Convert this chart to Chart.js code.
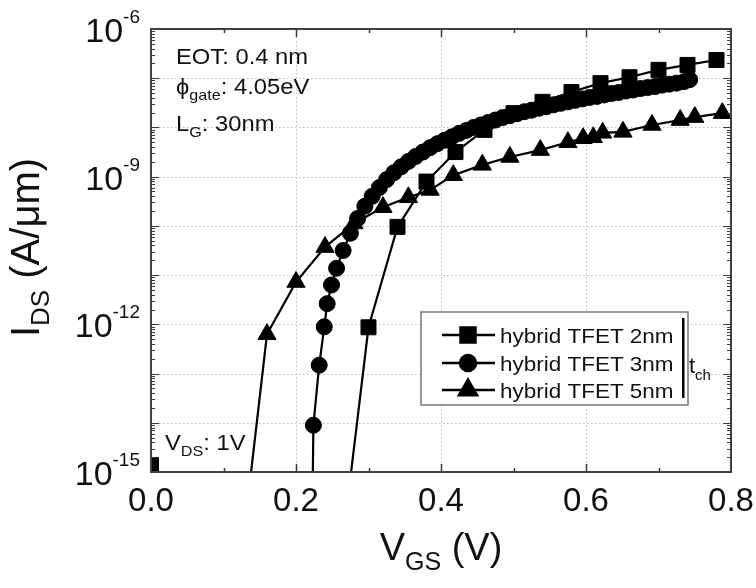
<!DOCTYPE html>
<html><head><meta charset="utf-8">
<script src="https://cdn.jsdelivr.net/npm/chart.js@4.4.1/dist/chart.umd.min.js"></script>
<style>html,body{margin:0;padding:0;background:#fff}canvas{display:block}</style>
</head><body>
<canvas id="c" width="756" height="588"></canvas>
<script>
// Transfer characteristics of hybrid TFETs, log10(I_DS [A/um]) vs V_GS [V]
const vgsSquare = [0.00, 0.26, 0.30, 0.34, 0.38, 0.42, 0.46, 0.50, 0.54, 0.58, 0.62, 0.66, 0.70, 0.74, 0.78];
const logIdsSquare = [-14.86, -16.96, -12.06, -10.02, -9.10, -8.50, -8.05, -7.71, -7.48, -7.28, -7.10, -6.98, -6.83, -6.73, -6.63];

const vgsCircle = [0.222, 0.224, 0.232, 0.239, 0.243, 0.249, 0.256, 0.265, 0.275, 0.285, 0.295, 0.305, 0.315, 0.325, 0.335,
  0.345, 0.355, 0.365, 0.375, 0.385, 0.395, 0.405, 0.415, 0.425, 0.435, 0.445, 0.455, 0.465, 0.475, 0.485, 0.495,
  0.505, 0.515, 0.525, 0.535, 0.545, 0.555, 0.565, 0.575, 0.585, 0.595, 0.605, 0.615, 0.625, 0.635, 0.645, 0.655,
  0.665, 0.675, 0.685, 0.695, 0.705, 0.715, 0.725, 0.735, 0.743];
const logIdsCircle = [-16.5, -14.05, -12.83, -12.05, -11.58, -11.20, -10.86, -10.50, -10.15, -9.85, -9.60, -9.40, -9.22, -9.06, -8.92,
  -8.80, -8.69, -8.59, -8.50, -8.41, -8.33, -8.26, -8.19, -8.12, -8.06, -8.00, -7.95, -7.90, -7.85, -7.80, -7.76,
  -7.72, -7.68, -7.65, -7.61, -7.58, -7.54, -7.51, -7.48, -7.45, -7.42, -7.39, -7.37, -7.34, -7.31, -7.29, -7.26,
  -7.24, -7.21, -7.19, -7.17, -7.14, -7.12, -7.10, -7.07, -7.03];

const vgsTriangle = [0.12, 0.16, 0.20, 0.24, 0.28, 0.32, 0.355, 0.385, 0.417, 0.457, 0.495, 0.537, 0.575, 0.596, 0.610,
  0.623, 0.651, 0.691, 0.730, 0.750, 0.788];
const logIdsTriangle = [-17.3, -12.20, -11.14, -10.43, -9.95, -9.62, -9.42, -9.27, -8.97, -8.76, -8.60, -8.46, -8.30, -8.22, -8.20,
  -8.11, -8.09, -7.95, -7.85, -7.79, -7.71];

const seriesNames = ['hybrid TFET 2nm', 'hybrid TFET 3nm', 'hybrid TFET 5nm'];
const xTickLabels = ['0.0', '0.2', '0.4', '0.6', '0.8'];
const yDecadeLabels = [-6, -9, -12, -15];

const toPoints = (xs, logs) => xs.map((v, i) => ({ x: v, y: Math.pow(10, logs[i]) }));

const FONT = '"Liberation Sans", Arial, sans-serif';
const INK = '#111';

// draws a run of text pieces ([text, size, dy]) with optional horizontal stretch
function richText(ctx, parts, x, y, align, sx) {
  sx = sx || 1;
  let w = 0;
  parts.forEach(p => { ctx.font = p[1] + 'px ' + FONT; w += ctx.measureText(p[0]).width * sx; });
  let cx = align === 'right' ? x - w : align === 'center' ? x - w / 2 : x;
  parts.forEach(p => {
    ctx.font = p[1] + 'px ' + FONT;
    ctx.save();
    ctx.translate(cx, y + (p[2] || 0));
    ctx.scale(sx, 1);
    ctx.fillText(p[0], 0, 0);
    ctx.restore();
    cx += ctx.measureText(p[0]).width * sx;
  });
}

const framePlugin = {
  id: 'frame',
  beforeDatasetsDraw(chart) {
    const { ctx, chartArea: a } = chart;
    const xs = chart.scales.x, ys = chart.scales.y;
    ctx.save();
    ctx.strokeStyle = '#bdbdbd';
    ctx.lineWidth = 1;
    ctx.setLineDash([1.5, 2.5]);
    for (let e = -14; e <= -7; e++) {
      const y = Math.round(ys.getPixelForValue(Math.pow(10, e))) + 0.5;
      ctx.beginPath(); ctx.moveTo(a.left, y); ctx.lineTo(a.right, y); ctx.stroke();
    }
    [0.2, 0.4, 0.6].forEach(v => {
      const x = Math.round(xs.getPixelForValue(v)) + 0.5;
      ctx.beginPath(); ctx.moveTo(x, a.top); ctx.lineTo(x, a.bottom); ctx.stroke();
    });
    ctx.restore();
  },
  afterDatasetsDraw(chart) {
    const { ctx, chartArea: a } = chart;
    const xs = chart.scales.x, ys = chart.scales.y;
    ctx.save();
    ctx.strokeStyle = '#3a3a3a';
    ctx.lineWidth = 1.5;
    // inward tick marks on all four sides
    for (let i = 1; i < 8; i++) {
      const v = i / 10;
      const x = Math.round(xs.getPixelForValue(v)) + 0.5;
      const len = i % 2 === 0 ? 8 : 4;
      ctx.beginPath();
      ctx.moveTo(x, a.bottom); ctx.lineTo(x, a.bottom - len);
      ctx.moveTo(x, a.top); ctx.lineTo(x, a.top + len);
      ctx.stroke();
    }
    ctx.lineWidth = 1;
    for (let e = -15; e < -6; e++) {
      for (let m = 1; m <= 9; m++) {
        const y = Math.round(ys.getPixelForValue(m * Math.pow(10, e))) + 0.5;
        if (y <= a.top + 1 || y >= a.bottom - 1) continue;
        const len = m === 1 ? 8 : 4;
        ctx.beginPath();
        ctx.moveTo(a.left, y); ctx.lineTo(a.left + len, y);
        ctx.moveTo(a.right, y); ctx.lineTo(a.right - len, y);
        ctx.stroke();
      }
    }
    ctx.strokeStyle = '#404040';
    ctx.lineWidth = 2;
    ctx.strokeRect(a.left, a.top, a.right - a.left, a.bottom - a.top);
    ctx.restore();
  },
  afterDraw(chart) {
    const { ctx, chartArea: a } = chart;
    const xs = chart.scales.x, ys = chart.scales.y;
    ctx.save();
    ctx.fillStyle = INK;
    ctx.textBaseline = 'alphabetic';
    // x tick labels
    ctx.textAlign = 'center';
    ctx.font = '33px ' + FONT;
    xTickLabels.forEach(t => ctx.fillText(t, xs.getPixelForValue(parseFloat(t)), a.bottom + 39));
    // y tick labels (powers of ten)
    ctx.textAlign = 'left';
    yDecadeLabels.forEach(e => {
      const y = ys.getPixelForValue(Math.pow(10, e));
      richText(ctx, [['10', 34, 0], [String(e), 19, -19]], a.left - 11, y + 13, 'right');
    });
    // axis titles
    richText(ctx, [['V', 38, 0], ['GS', 25, 10], [' (V)', 38, 0]], (a.left + a.right) / 2, 560, 'center');
    ctx.save();
    ctx.translate(39, (a.top + a.bottom) / 2 - 3);
    ctx.rotate(-Math.PI / 2);
    richText(ctx, [['I', 40, 0], ['DS', 26, 10], [' (A/\u03bcm)', 40, 0]], 0, 0, 'center');
    ctx.restore();
    // annotations
    const sx = 1.08;
    richText(ctx, [['EOT: 0.4 nm', 22, 0]], a.left + 25, 64, 'left', sx);
    richText(ctx, [['\u03d5', 22, 0], ['gate', 15, 6], [': 4.05eV', 22, 0]], a.left + 25, 94, 'left', sx);
    richText(ctx, [['L', 22, 0], ['G', 15, 6], [': 30nm', 22, 0]], a.left + 25, 131, 'left', sx);
    richText(ctx, [['V', 22, 0], ['DS', 15, 6], [': 1V', 22, 0]], a.left + 14, 450, 'left', sx);
    // legend
    const bx = 421, by = 312, bw = 267, bh = 93;
    ctx.fillStyle = '#fff';
    ctx.fillRect(bx, by, bw, bh);
    ctx.strokeStyle = '#777';
    ctx.lineWidth = 1.5;
    ctx.strokeRect(bx, by, bw, bh);
    const styles = chart.data.datasets;
    [335, 363, 390].forEach((ry, i) => {
      const ds = styles[i];
      ctx.strokeStyle = '#000';
      ctx.lineWidth = 2.5;
      ctx.beginPath(); ctx.moveTo(442, ry); ctx.lineTo(495, ry); ctx.stroke();
      ctx.fillStyle = '#000';
      Chart.helpers.drawPoint(ctx, { pointStyle: ds.pointStyle, radius: ds.pointRadius, rotation: 0, borderWidth: 1 }, 468, ry);
      ctx.fillStyle = INK;
      richText(ctx, [[seriesNames[i], 21, 0]], 500, ry + 8, 'left', 1.07);
    });
    ctx.fillStyle = '#000';
    ctx.fillRect(682, 318, 2.5, 80);
    ctx.fillStyle = INK;
    richText(ctx, [['t', 22, 0], ['ch', 15, 7]], 689, 373, 'left');
    ctx.restore();
  }
};

const common = {
  showLine: true,
  borderColor: '#000',
  backgroundColor: '#000',
  pointBackgroundColor: '#000',
  pointBorderColor: '#000',
  borderWidth: 2.2,
  pointBorderWidth: 1,
  tension: 0,
  clip: 0
};

new Chart(document.getElementById('c'), {
  type: 'scatter',
  data: {
    datasets: [
      Object.assign({}, common, {
        label: seriesNames[0], data: toPoints(vgsSquare, logIdsSquare),
        pointStyle: 'rect', pointRadius: 10.6,
        // the point at V_GS = 0 stands alone
        segment: { borderColor: c => c.p0DataIndex === 0 ? 'rgba(0,0,0,0)' : undefined }
      }),
      Object.assign({}, common, {
        label: seriesNames[1], data: toPoints(vgsCircle, logIdsCircle),
        pointStyle: 'circle', pointRadius: 8
      }),
      Object.assign({}, common, {
        label: seriesNames[2], data: toPoints(vgsTriangle, logIdsTriangle),
        pointStyle: 'triangle', pointRadius: 10.5
      })
    ]
  },
  options: {
    responsive: false,
    animation: false,
    devicePixelRatio: 1,
    layout: { padding: { top: 29, right: 25, left: 0, bottom: 0 } },
    plugins: { legend: { display: false }, tooltip: { enabled: false } },
    scales: {
      x: {
        type: 'linear', min: 0, max: 0.8,
        ticks: { display: false, stepSize: 0.1 },
        grid: { display: false },
        border: { display: false },
        afterFit: s => { s.height = 116; }
      },
      y: {
        type: 'logarithmic', min: 1e-15, max: 1e-6,
        ticks: { display: false },
        grid: { display: false },
        border: { display: false },
        afterFit: s => { s.width = 151; }
      }
    }
  },
  plugins: [framePlugin]
});
</script>
</body></html>
